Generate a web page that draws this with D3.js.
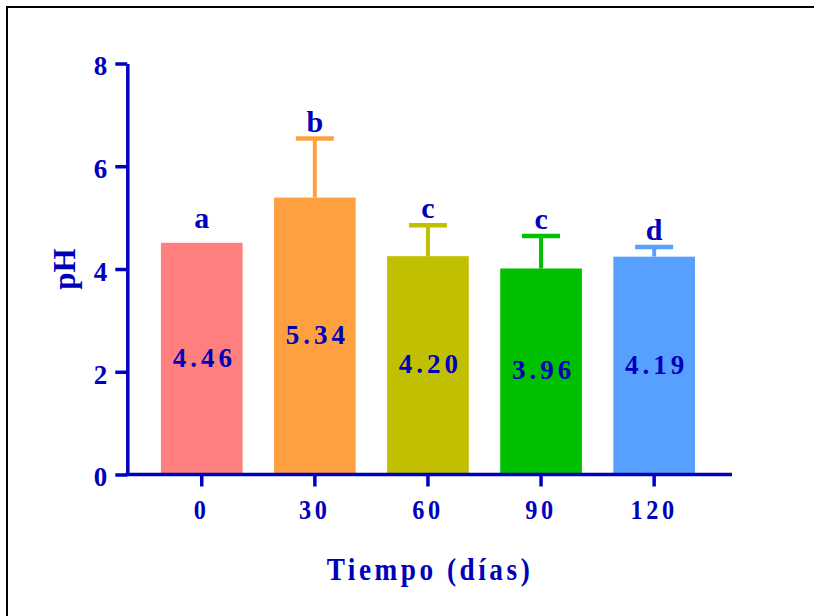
<!DOCTYPE html>
<html>
<head>
<meta charset="utf-8">
<script src="https://cdn.jsdelivr.net/npm/d3@7"></script>
<style>
  body { margin: 0; background: #fff; }
  svg text { font-family: "Liberation Serif", "Times New Roman", serif; font-weight: bold; fill: #0000bb; }
</style>
</head>
<body>
<figure id="bar" style="margin:0"></figure>
<script>
// data
const days = ["0", "30", "60", "90", "120"];
const meanPH = [4.51, 5.39, 4.25, 4.01, 4.24];
const errPH = [0, 1.15, 0.60, 0.63, 0.19];
const valueLabels = ["4.46", "5.34", "4.20", "3.96", "4.19"];
const groupLetters = ["a", "b", "c", "c", "d"];
const barColors = ["#ff7f7f", "#ffa040", "#c0c000", "#00c000", "#58a0ff"];
const yTicks = [0, 2, 4, 6, 8];

const width = 814, height = 616;
const axisColor = "#0000c0";

const svg = d3.select("figure#bar")
  .append("svg")
  .attr("width", width)
  .attr("height", height);

// frame (only top and left edges show)
svg.append("path")
  .attr("d", "M7,616V7H814")
  .attr("fill", "none")
  .attr("stroke", "#000")
  .attr("stroke-width", 2);

const data = days.map((d, i) => ({
  day: d, mean: meanPH[i], err: errPH[i],
  label: valueLabels[i], letter: groupLetters[i], color: barColors[i]
}));

// scales
const x = d3.scaleBand()
  .domain(days)
  .range([145.2, 710.7])
  .paddingInner(0.278)
  .paddingOuter(0.139);

const y = d3.scaleLinear()
  .domain([0, 8])
  .range([474.5, 63.5]);

const yAxisX = 127.3;

// bars
svg.selectAll("rect.bar")
  .data(data)
  .enter()
  .append("rect")
  .attr("class", "bar")
  .attr("x", d => x(d.day))
  .attr("y", d => y(d.mean))
  .attr("width", x.bandwidth())
  .attr("height", d => y(0) - y(d.mean))
  .attr("fill", d => d.color);

// error bars (upper only)
const eb = svg.selectAll("g.err")
  .data(data.filter(d => d.err > 0))
  .enter()
  .append("g")
  .attr("class", "err");

eb.append("line")
  .attr("x1", d => x(d.day) + x.bandwidth() / 2)
  .attr("x2", d => x(d.day) + x.bandwidth() / 2)
  .attr("y1", d => y(d.mean))
  .attr("y2", d => y(d.mean + d.err))
  .attr("stroke", d => d.color)
  .attr("stroke-width", 4);

eb.append("line")
  .attr("x1", d => x(d.day) + x.bandwidth() / 2 - 19)
  .attr("x2", d => x(d.day) + x.bandwidth() / 2 + 19)
  .attr("y1", d => y(d.mean + d.err))
  .attr("y2", d => y(d.mean + d.err))
  .attr("stroke", d => d.color)
  .attr("stroke-width", 4.5);

// y axis
const yAxis = svg.append("g")
  .attr("transform", "translate(" + yAxisX + ",0)")
  .call(d3.axisLeft(y).tickValues(yTicks).tickSize(12).tickSizeOuter(0).tickPadding(8));

yAxis.select(".domain")
  .attr("stroke", axisColor)
  .attr("stroke-width", 3.5);
yAxis.selectAll(".tick line")
  .attr("stroke", axisColor)
  .attr("stroke-width", 3.5);
yAxis.selectAll(".tick text")
  .attr("fill", "#0000bb")
  .attr("font-family", null)
  .style("font-size", "27px")
  .attr("dy", "0.42em");

// x axis
svg.append("line")
  .attr("x1", yAxisX - 1.75)
  .attr("x2", 732)
  .attr("y1", y(0))
  .attr("y2", y(0))
  .attr("stroke", axisColor)
  .attr("stroke-width", 3.5);

const xAxis = svg.append("g")
  .attr("transform", "translate(0," + y(0) + ")")
  .call(d3.axisBottom(x).tickSize(12).tickSizeOuter(0).tickPadding(13));

xAxis.select(".domain").remove();
xAxis.selectAll(".tick line")
  .attr("stroke", axisColor)
  .attr("stroke-width", 3.5);
xAxis.selectAll(".tick text")
  .attr("fill", "#0000bb")
  .attr("font-family", null)
  .style("font-size", "27px")
  .style("letter-spacing", "4px")
  .attr("transform", "scale(0.9,1)")
  .attr("dy", "0.71em");

// value labels inside bars
svg.selectAll("text.value")
  .data(data)
  .enter()
  .append("text")
  .attr("class", "value")
  .attr("x", d => x(d.day) + x.bandwidth() / 2 + 2.5)
  .attr("y", d => (y(d.mean) + y(0)) / 2 + 8)
  .attr("text-anchor", "middle")
  .style("font-size", "27px")
  .style("letter-spacing", "4px")
  .text(d => d.label);

// significance letters
svg.selectAll("text.letter")
  .data(data)
  .enter()
  .append("text")
  .attr("class", "letter")
  .attr("x", d => x(d.day) + x.bandwidth() / 2)
  .attr("y", d => y(d.mean + d.err) - (d.err > 0 ? 7 : 15))
  .attr("text-anchor", "middle")
  .style("font-size", "30px")
  .text(d => d.letter);

// axis titles
svg.append("g")
  .attr("transform", "translate(" + ((x(days[0]) + x(days[days.length - 1]) + x.bandwidth()) / 2 + 2) + ",580) scale(0.88,1)")
  .append("text")
  .attr("text-anchor", "middle")
  .style("font-size", "31px")
  .style("letter-spacing", "4px")
  .text("Tiempo (días)");

svg.append("text")
  .attr("transform", "translate(75," + y(4) + ") rotate(-90)")
  .attr("text-anchor", "middle")
  .style("font-size", "31px")
  .text("pH");
</script>
</body>
</html>
